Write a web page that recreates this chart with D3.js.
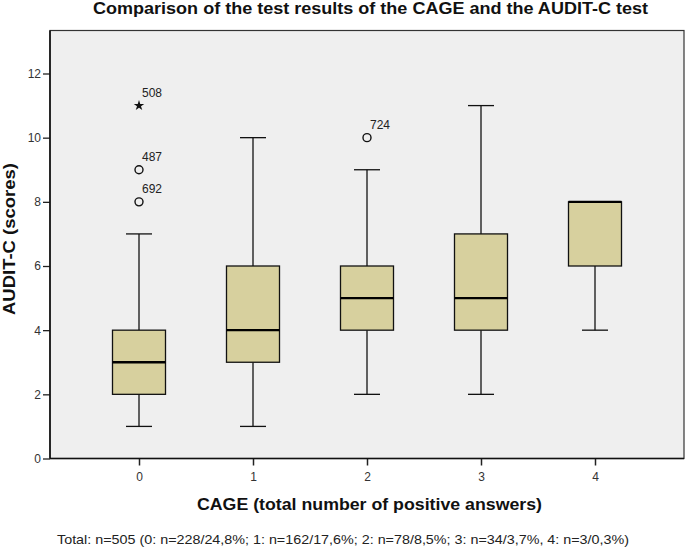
<!DOCTYPE html>
<html><head><meta charset="utf-8">
<script src="https://cdn.jsdelivr.net/npm/d3@7"></script>
<style>body{margin:0;background:#fff;}svg{display:block;font-family:"Liberation Sans",Arial,sans-serif;}</style>
</head><body><svg id="c" width="685" height="547"></svg>
<script>
const categories = ["0","1","2","3","4"];
const whiskerLow = [1,1,2,2,4];
const q1 = [2,3,4,4,6];
const median = [3,4,5,5,8];
const q3 = [4,6,6,7,8];
const whiskerHigh = [7,10,9,11,8];
const outlierCat = ["0","0","0","2"];
const outlierVal = [11,9,8,10];
const outlierId = ["508","487","692","724"];
const outlierExtreme = [true,false,false,false];
const yTicks = [0,2,4,6,8,10,12];

const svg = d3.select("#c");
const pL=50, pR=684, pT=30.5, pB=458.5;
const x = d3.scalePoint().domain(categories).range([139,595]);
const y = d3.scaleLinear().domain([0,12]).range([pB,73.5]);

svg.append("rect").attr("x",pL).attr("y",pT).attr("width",pR-pL).attr("height",pB-pT)
  .attr("fill","#efefef").attr("stroke","#333").attr("stroke-width",1.2);

// title
svg.append("text").attr("x",93).attr("y",13.5)
  .attr("font-weight","bold").attr("font-size",16).attr("fill","#111")
  .attr("textLength",555).attr("lengthAdjust","spacingAndGlyphs")
  .text("Comparison of the test results of the CAGE and the AUDIT-C test");

// axes
const ya = svg.append("g").attr("transform",`translate(${pL},0)`)
  .call(d3.axisLeft(y).tickValues(yTicks).tickSize(7).tickPadding(2).tickSizeOuter(0));
ya.select(".domain").remove();
ya.selectAll("line").attr("stroke","#222").attr("stroke-width",1.3);
ya.selectAll("text").attr("font-size",12).attr("fill","#333").attr("font-family","Liberation Sans, Arial");
const xa = svg.append("g").attr("transform",`translate(0,${pB})`)
  .call(d3.axisBottom(x).tickSize(7).tickSizeOuter(0));
xa.select(".domain").remove();
xa.selectAll("line").attr("stroke","#222").attr("stroke-width",1.5);
xa.selectAll("text").attr("font-size",12).attr("fill","#333").attr("font-family","Liberation Sans, Arial").attr("y",14).attr("dy","0.71em");
svg.append("line").attr("x1",pL).attr("x2",pL).attr("y1",pT).attr("y2",pB).attr("stroke","#111").attr("stroke-width",1.6);
svg.append("line").attr("x1",pL).attr("x2",pR).attr("y1",pB).attr("y2",pB).attr("stroke","#111").attr("stroke-width",1.6);

// boxes
const bw=53, cw=26;
categories.forEach((c,i)=>{
  const cx=x(c);
  const g=svg.append("g");
  if (whiskerHigh[i]>q3[i]) {
    g.append("line").attr("x1",cx).attr("x2",cx).attr("y1",y(q3[i])).attr("y2",y(whiskerHigh[i])).attr("stroke","#111").attr("stroke-width",1.3);
    g.append("line").attr("x1",cx-cw/2).attr("x2",cx+cw/2).attr("y1",y(whiskerHigh[i])).attr("y2",y(whiskerHigh[i])).attr("stroke","#111").attr("stroke-width",1.3);
  }
  if (whiskerLow[i]<q1[i]) {
    g.append("line").attr("x1",cx).attr("x2",cx).attr("y1",y(q1[i])).attr("y2",y(whiskerLow[i])).attr("stroke","#111").attr("stroke-width",1.3);
    g.append("line").attr("x1",cx-cw/2).attr("x2",cx+cw/2).attr("y1",y(whiskerLow[i])).attr("y2",y(whiskerLow[i])).attr("stroke","#111").attr("stroke-width",1.3);
  }
  g.append("rect").attr("x",cx-bw/2).attr("y",y(q3[i])).attr("width",bw).attr("height",y(q1[i])-y(q3[i]))
    .attr("fill","#d7d09e").attr("stroke","#111").attr("stroke-width",1.3);
  g.append("line").attr("x1",cx-bw/2).attr("x2",cx+bw/2).attr("y1",y(median[i])).attr("y2",y(median[i])).attr("stroke","#000").attr("stroke-width",2.4);
});

// outliers
outlierVal.forEach((v,i)=>{
  const cx=x(outlierCat[i]), cy=y(v);
  if (outlierExtreme[i]) {
    svg.append("path").attr("d",d3.symbol(d3.symbolStar,34)()).attr("transform",`translate(${cx},${cy})`).attr("fill","#111");
  } else {
    svg.append("circle").attr("cx",cx).attr("cy",cy).attr("r",4).attr("fill","none").attr("stroke","#111").attr("stroke-width",1.4);
  }
  svg.append("text").attr("x",cx+3).attr("y",cy-9).attr("font-size",12).attr("fill","#222").text(outlierId[i]);
});

// axis labels
svg.append("text").attr("transform","translate(15,239) rotate(-90)").attr("text-anchor","middle")
  .attr("font-weight","bold").attr("font-size",16).attr("fill","#111")
  .attr("textLength",152).attr("lengthAdjust","spacingAndGlyphs").text("AUDIT-C (scores)");
svg.append("text").attr("x",197).attr("y",510)
  .attr("font-weight","bold").attr("font-size",17).attr("fill","#111")
  .attr("textLength",345).attr("lengthAdjust","spacingAndGlyphs").text("CAGE (total number of positive answers)");
svg.append("text").attr("x",57).attr("y",544)
  .attr("font-size",13.5).attr("fill","#222")
  .attr("textLength",572).attr("lengthAdjust","spacingAndGlyphs")
  .text("Total: n=505 (0: n=228/24,8%; 1: n=162/17,6%; 2: n=78/8,5%; 3: n=34/3,7%, 4: n=3/0,3%)");
</script></body></html>
